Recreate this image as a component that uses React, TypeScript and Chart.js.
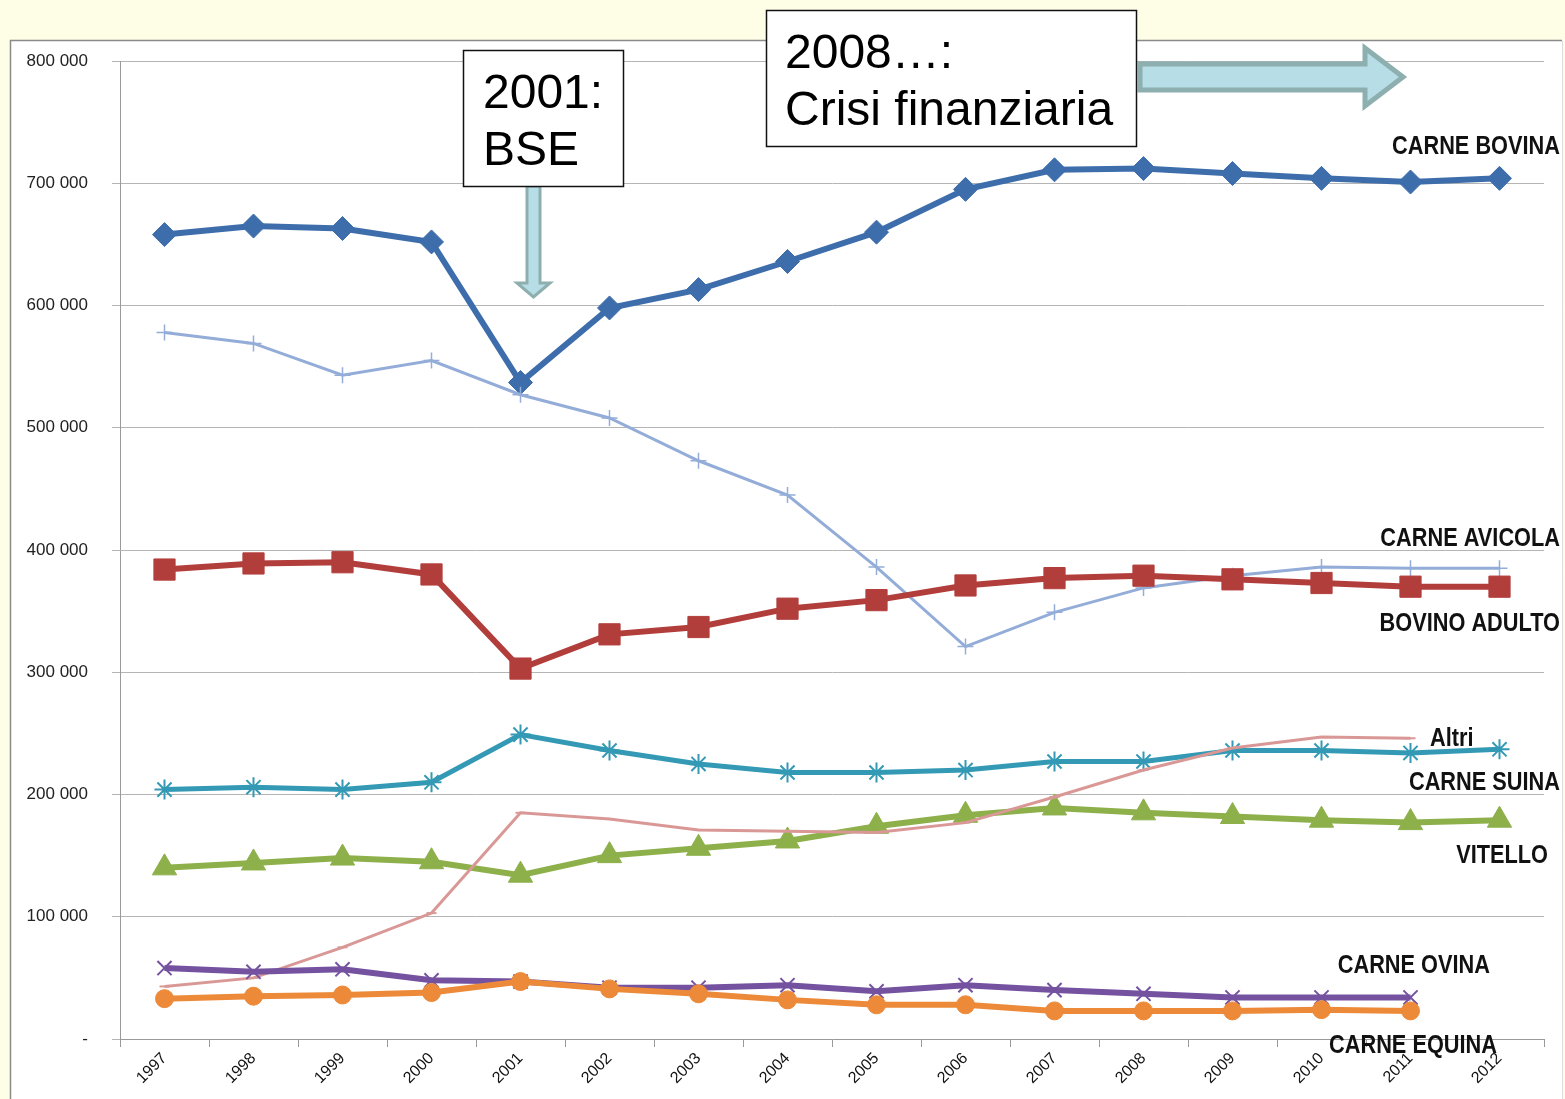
import React, { useEffect, useRef } from 'react';
import { Chart, registerables } from 'chart.js';

Chart.register(...registerables);

const years = ['1997', '1998', '1999', '2000', '2001', '2002', '2003', '2004', '2005', '2006', '2007', '2008', '2009', '2010', '2011', '2012'];
const carneBovina = [658000, 665000, 663000, 652000, 537000, 598000, 613000, 636000, 660000, 695000, 711000, 712000, 708000, 704000, 701000, 704000];
const carneAvicola = [578000, 569000, 543000, 555000, 527000, 508000, 473000, 445000, 386000, 321000, 349000, 369000, 379000, 386000, 385000, 385000];
const bovinoAdulto = [384000, 389000, 390000, 380000, 303000, 331000, 337000, 352000, 359000, 371000, 377000, 379000, 376000, 373000, 370000, 370000];
const carneSuina = [204000, 206000, 204000, 210000, 249000, 236000, 225000, 218000, 218000, 220000, 227000, 227000, 236000, 236000, 234000, 237000];
const altri = [43000, 50000, 75000, 103000, 185000, 180000, 171000, 170000, 169000, 177000, 198000, 220000, 238000, 247000, 246000, null];
const vitello = [140000, 144000, 148000, 145000, 134000, 150000, 156000, 162000, 174000, 183000, 189000, 185000, 182000, 179000, 177000, 179000];
const carneOvina = [58000, 55000, 57000, 48000, 47000, 42000, 42000, 44000, 39000, 44000, 40000, 37000, 34000, 34000, 34000, null];
const carneEquina = [33000, 35000, 36000, 38000, 47000, 41000, 37000, 32000, 28000, 28000, 23000, 23000, 23000, 24000, 23000, null];

const seriesLabels = [
  { text: 'CARNE BOVINA', x: 1560, y: 154, align: 'right' },
  { text: 'CARNE AVICOLA', x: 1560, y: 546, align: 'right' },
  { text: 'BOVINO ADULTO', x: 1560, y: 631, align: 'right' },
  { text: 'Altri', x: 1430, y: 746, align: 'left' },
  { text: 'CARNE SUINA', x: 1560, y: 790, align: 'right' },
  { text: 'VITELLO', x: 1548, y: 863, align: 'right' },
  { text: 'CARNE OVINA', x: 1490, y: 973, align: 'right' },
  { text: 'CARNE EQUINA', x: 1497, y: 1053, align: 'right' },
];

const SANS = '"Liberation Sans", Arial, sans-serif';

function fmt(v: number): string {
  if (v === 0) return '-';
  const s = String(Math.round(v));
  return s.replace(/\B(?=(\d{3})+(?!\d))/g, ' ');
}

const decorPlugin = {
  id: 'decor',
  beforeDraw(chart: any) {
    const ctx = chart.ctx;
    ctx.save();
    ctx.fillStyle = '#FEFDE6';
    ctx.fillRect(0, 0, chart.width, chart.height);
    ctx.fillStyle = '#ffffff';
    ctx.fillRect(10, 40, 1552, 1070);
    ctx.strokeStyle = '#8a8a8a';
    ctx.lineWidth = 1.5;
    ctx.beginPath();
    ctx.moveTo(10.5, 1110);
    ctx.lineTo(10.5, 40.5);
    ctx.lineTo(1562, 40.5);
    ctx.stroke();
    ctx.strokeStyle = '#dddddd';
    ctx.lineWidth = 1;
    ctx.beginPath();
    ctx.moveTo(1562.5, 41);
    ctx.lineTo(1562.5, 1110);
    ctx.stroke();
    ctx.restore();
  },
  afterDraw(chart: any) {
    const ctx = chart.ctx;
    ctx.save();
    // down arrow (BSE)
    ctx.fillStyle = '#B7DEE6';
    ctx.strokeStyle = '#8EAFAF';
    ctx.lineWidth = 3;
    ctx.lineJoin = 'miter';
    ctx.beginPath();
    ctx.moveTo(527, 186);
    ctx.lineTo(540, 186);
    ctx.lineTo(540, 283);
    ctx.lineTo(550, 283);
    ctx.lineTo(533.5, 297);
    ctx.lineTo(517, 283);
    ctx.lineTo(527, 283);
    ctx.closePath();
    ctx.fill();
    ctx.stroke();
    // right arrow (crisis)
    ctx.lineWidth = 5;
    ctx.beginPath();
    ctx.moveTo(1140, 64);
    ctx.lineTo(1365, 64);
    ctx.lineTo(1365, 48);
    ctx.lineTo(1403, 77);
    ctx.lineTo(1365, 106);
    ctx.lineTo(1365, 90);
    ctx.lineTo(1140, 90);
    ctx.closePath();
    ctx.fill();
    ctx.stroke();

    // boxes
    ctx.fillStyle = '#ffffff';
    ctx.strokeStyle = '#111111';
    ctx.lineWidth = 1.5;
    ctx.fillRect(463, 50, 160, 136);
    ctx.strokeRect(463.5, 50.5, 160, 136);
    ctx.fillRect(766, 10, 370, 136);
    ctx.strokeRect(766.5, 10.5, 370, 136);

    ctx.fillStyle = '#000000';
    ctx.font = '48px ' + SANS;
    ctx.textAlign = 'left';
    ctx.textBaseline = 'alphabetic';
    ctx.fillText('2001:', 483, 108);
    ctx.fillText('BSE', 483, 165);
    ctx.fillText('2008\u2026:', 785, 68);
    ctx.fillText('Crisi finanziaria', 785, 125);

    // series labels (condensed bold)
    ctx.font = 'bold 25px ' + SANS;
    ctx.fillStyle = '#111111';
    const sx = 0.87;
    for (const l of seriesLabels) {
      ctx.save();
      ctx.translate(l.x, l.y);
      ctx.scale(sx, 1);
      ctx.textAlign = l.align as CanvasTextAlign;
      ctx.fillText(l.text, 0, 0);
      ctx.restore();
    }
    ctx.restore();
  },
};

export default function App() {
  const ref = useRef<HTMLCanvasElement | null>(null);
  useEffect(() => {
    if (!ref.current) return;
    const mk = (label: string, data: (number | null)[], color: string, width: number, style: string, radius: number, pbw: number, filled: boolean) => ({
      label,
      data,
      borderColor: color,
      backgroundColor: color,
      borderWidth: width,
      pointStyle: style,
      pointRadius: radius,
      pointBorderWidth: pbw,
      pointBackgroundColor: filled ? color : 'rgba(0,0,0,0)',
      pointBorderColor: color,
      tension: 0,
      spanGaps: false,
    });
    const chart = new Chart(ref.current, {
      type: 'line',
      data: {
        labels: years,
        datasets: [
          mk('CARNE EQUINA', carneEquina, '#EC8A3A', 6, 'circle', 9, 1, true),
          mk('CARNE OVINA', carneOvina, '#7452A0', 6, 'crossRot', 10, 2, false),
          mk('Altri', altri, '#D99896', 3, 'line', 5, 2, false),
          mk('VITELLO', vitello, '#8DB04B', 6, 'triangle', 14, 1, true),
          mk('CARNE SUINA', carneSuina, '#3399B4', 5, 'star', 10, 2, false),
          mk('BOVINO ADULTO', bovinoAdulto, '#B23E3C', 6, 'rect', 15, 1, true),
          mk('CARNE AVICOLA', carneAvicola, '#93ADD8', 3, 'cross', 8, 1.5, false),
          mk('CARNE BOVINA', carneBovina, '#3E6DAC', 6, 'rectRot', 12, 1, true),
        ],
      },
      options: {
        responsive: false,
        animation: false,
        layout: { padding: { left: 0, top: 61, right: 21, bottom: 0 } },
        plugins: {
          legend: { display: false },
          tooltip: { enabled: false },
        },
        scales: {
          x: {
            offset: true,
            grid: {
              offset: true,
              drawOnChartArea: false,
              drawTicks: true,
              tickLength: 8,
              color: '#9a9a9a',
            },
            border: { color: '#9a9a9a', width: 1 },
            ticks: {
              minRotation: 45,
              maxRotation: 45,
              color: '#111111',
              font: { family: SANS, size: 16 },
              padding: 2,
            },
            afterFit(scale: any) {
              scale.height = 60;
            },
          },
          y: {
            min: 0,
            max: 800000,
            ticks: {
              stepSize: 100000,
              color: '#222222',
              font: { family: SANS, size: 17 },
              padding: 24,
              callback: (v: any) => fmt(Number(v)),
            },
            grid: {
              color: '#b5b5b5',
              lineWidth: 1,
              drawTicks: true,
              tickLength: 8,
            },
            border: { color: '#9a9a9a', width: 1 },
            afterFit(scale: any) {
              scale.width = 120;
            },
          },
        },
      },
      plugins: [decorPlugin],
    } as any);
    return () => chart.destroy();
  }, []);
  return (
    <div style={{ position: 'absolute', left: 0, top: 0, width: 1565, height: 1099, overflow: 'hidden' }}>
      <canvas ref={ref} width={1565} height={1099} style={{ display: 'block', width: 1565, height: 1099 }} />
    </div>
  );
}
